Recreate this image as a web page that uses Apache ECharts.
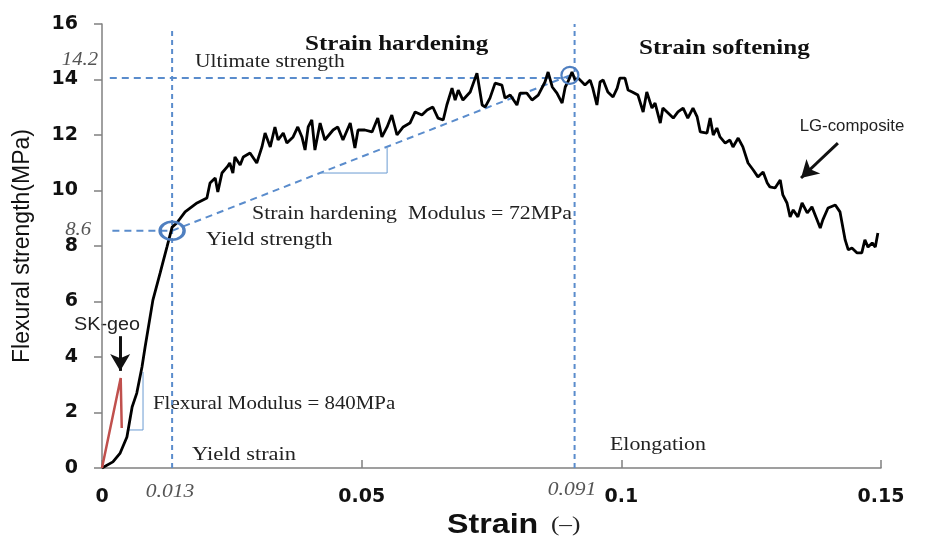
<!DOCTYPE html>
<html>
<head>
<meta charset="utf-8">
<script src="https://cdn.jsdelivr.net/npm/echarts@6/dist/echarts.min.js"></script>
<style>
  html, body { margin: 0; padding: 0; background: #fff; }
  #chart { width: 929px; height: 540px; }
</style>
</head>
<body>
<div id="chart"></div>
<script>
// LG-composite curve
var lgStrain = [0, 0.0021, 0.0035, 0.0048, 0.0058, 0.0067, 0.0077, 0.0083, 0.0098, 0.0112,
  0.0117, 0.0125, 0.0135, 0.0144, 0.0160, 0.0183, 0.0202, 0.0208, 0.0218, 0.0223,
  0.0231, 0.0241, 0.0246, 0.0252, 0.0256, 0.0266, 0.0272, 0.0285, 0.0298, 0.0308,
  0.0314, 0.0324, 0.0333, 0.0339, 0.0349, 0.0356, 0.0368, 0.0377, 0.0385, 0.0391,
  0.0397, 0.0404, 0.0410, 0.0420, 0.0429, 0.0445, 0.0454, 0.0464, 0.0478, 0.0487,
  0.0493, 0.0506, 0.0520, 0.0531, 0.0539, 0.0549, 0.0558, 0.0568, 0.0580, 0.0593,
  0.0603, 0.0616, 0.0626, 0.0637, 0.0647, 0.0657, 0.0664, 0.0674, 0.0680, 0.0686,
  0.0695, 0.0709, 0.0722, 0.0732, 0.0738, 0.0747, 0.0757, 0.0770, 0.0776, 0.0786,
  0.0799, 0.0805, 0.0818, 0.0828, 0.0840, 0.0853, 0.0859, 0.0867, 0.0876, 0.0886,
  0.0892, 0.0897, 0.0905, 0.0911, 0.0917, 0.0930, 0.0940, 0.0945, 0.0953, 0.0959,
  0.0965, 0.0974, 0.0984, 0.0992, 0.0997, 0.1007, 0.1013, 0.1021, 0.1032, 0.1042,
  0.1049, 0.1059, 0.1065, 0.1075, 0.1080, 0.1090, 0.1100, 0.1109, 0.1119, 0.1128,
  0.1138, 0.1146, 0.1152, 0.1165, 0.1171, 0.1177, 0.1184, 0.1190, 0.1200, 0.1209,
  0.1215, 0.1225, 0.1234, 0.1244, 0.1254, 0.1263, 0.1273, 0.1281, 0.1286, 0.1296,
  0.1306, 0.1311, 0.1319, 0.1325, 0.1331, 0.1340, 0.1348, 0.1358, 0.1367, 0.1377,
  0.1383, 0.1388, 0.1398, 0.1412, 0.1421, 0.1431, 0.1437, 0.1444, 0.1454, 0.1463,
  0.1469, 0.1475, 0.1483, 0.1489, 0.1494];
var lgStress = [0, 0.22, 0.54, 1.12, 2.20, 2.70, 3.64, 4.36, 6.05, 7.03,
  7.39, 7.96, 8.68, 8.83, 9.23, 9.55, 9.73, 10.27, 10.45, 9.95,
  10.63, 10.85, 10.99, 10.63, 11.21, 10.92, 11.21, 11.35, 10.99, 11.57,
  12.07, 11.57, 12.29, 11.82, 12.07, 11.71, 11.93, 12.29, 11.93, 11.46,
  12.29, 12.54, 11.46, 12.43, 11.82, 12.18, 12.29, 11.82, 12.43, 11.53,
  12.18, 12.18, 12.11, 12.61, 11.93, 12.29, 12.72, 12.00, 12.29, 12.43,
  12.83, 12.72, 12.90, 13.01, 12.61, 12.54, 13.08, 13.69, 13.26, 13.62,
  13.26, 13.55, 14.23, 13.08, 13.01, 13.33, 13.87, 13.80, 13.33, 13.44,
  13.08, 13.51, 13.51, 13.26, 13.44, 13.91, 14.27, 13.73, 13.51, 13.15,
  13.73, 13.91, 14.27, 13.98, 14.05, 13.80, 13.98, 13.69, 13.08, 13.91,
  13.98, 13.55, 13.37, 13.69, 14.05, 14.05, 13.62, 13.55, 13.44, 12.83,
  13.55, 12.97, 13.15, 12.43, 12.97, 12.79, 12.61, 12.83, 12.97, 12.61,
  12.97, 12.65, 12.11, 12.07, 12.61, 12.00, 12.25, 11.93, 11.71, 11.82,
  11.57, 11.89, 11.57, 10.99, 10.74, 10.49, 10.67, 10.27, 10.13, 10.09,
  10.38, 9.84, 9.55, 9.05, 9.30, 9.05, 9.55, 9.19, 9.41, 8.94,
  8.65, 8.94, 9.37, 9.48, 9.23, 8.22, 7.86, 7.93, 7.75, 7.75,
  8.22, 7.96, 8.11, 7.96, 8.47];

// SK-geo curve
var skStrain = [0, 0.0036, 0.0038];
var skStress = [0, 3.24, 1.44];

// annotation points
var yieldPoint = [0.0135, 8.55];
var ultimatePoint = [0.0901, 14.15];
var ultimateLevel = 14.05;
var elongationStrain = 0.091;

function pairs(xs, ys) {
  return xs.map(function (x, i) { return [x, ys[i]]; });
}

var chart = echarts.init(document.getElementById('chart'));

var blue = '#4f7fc0';
var dashed = { color: '#5a8ccc', width: 2, type: [7, 5] };
var dotted = { color: '#5a8ccc', width: 2, type: [5, 4] };
var thin = { color: '#6b9bd2', width: 1 };
var serif = '"Liberation Serif", "Times New Roman", serif';
var sans = '"Liberation Sans", Arial, sans-serif';

function guide(data, style) {
  return {
    type: 'line', data: data, showSymbol: false, silent: true,
    lineStyle: style, z: 1, animation: false
  };
}

// the figure is a little stretched sideways, so the text is widened too
function txt(x, y, text, font, align, fill, sx) {
  return {
    type: 'text', x: x, y: y, silent: true, scaleX: sx || 1.13,
    style: { text: text, font: font, fill: fill || '#222', align: align || 'left', verticalAlign: 'middle' }
  };
}

chart.setOption({
  animation: false,
  grid: { left: 102, right: 48, top: 24, bottom: 72 },
  xAxis: {
    type: 'value', min: 0, max: 0.15, interval: 0.05,
    axisLine: { show: true, lineStyle: { color: '#808080', width: 1.5 } },
    axisTick: { show: true, inside: true, length: 8, lineStyle: { color: '#808080', width: 1.5 } },
    axisLabel: { margin: 20, color: '#111', fontFamily: 'DejaVu Sans', fontWeight: 'bold', fontSize: 19,
      formatter: function (v) { return String(+v.toFixed(2)); } },
    splitLine: { show: false }
  },
  yAxis: {
    type: 'value', min: 0, max: 16, interval: 2,
    name: 'Flexural strength(MPa)', nameLocation: 'middle', nameGap: 68,
    nameTextStyle: { fontFamily: sans, fontSize: 23, color: '#111' },
    axisLine: { show: true, lineStyle: { color: '#808080', width: 1.5 } },
    axisTick: { show: true, inside: false, length: 8, lineStyle: { color: '#808080', width: 1.5 } },
    axisLabel: { margin: 24, color: '#111', fontFamily: 'DejaVu Sans', fontWeight: 'bold', fontSize: 19 },
    splitLine: { show: false }
  },
  series: [
    guide([[yieldPoint[0], 0], [yieldPoint[0], 15.8]], dotted),
    guide([[elongationStrain, 0], [elongationStrain, 16]], dotted),
    guide([[0.0015, ultimateLevel], [ultimatePoint[0], ultimateLevel]], dashed),
    guide([[0.002, yieldPoint[1]], yieldPoint], dashed),
    guide([yieldPoint, ultimatePoint], dashed),
    guide([[0.0050, 1.37], [0.0079, 1.37], [0.0079, 3.46]], thin),
    guide([[0.0420, 10.63], [0.0549, 10.63], [0.0549, 11.55]], thin),
    {
      name: 'LG-composite', type: 'line', data: pairs(lgStrain, lgStress),
      showSymbol: false, lineStyle: { color: '#000', width: 2.8 }, z: 3,
      markLine: {
        silent: true, symbol: ['none', 'arrow'], symbolSize: [15, 17],
        label: { show: false },
        lineStyle: { color: '#111', width: 3, type: 'solid' },
        data: [
          [{ coord: [0.1417, 11.71] }, { coord: [0.1346, 10.45] }],
          [{ coord: [0.0035, 4.75] }, { coord: [0.0035, 3.5] }]
        ]
      }
    },
    {
      name: 'SK-geo', type: 'line', data: pairs(skStrain, skStress),
      showSymbol: false, lineStyle: { color: '#c0504d', width: 2.5 }, z: 3
    },
    {
      type: 'scatter', data: [yieldPoint], symbol: 'circle', symbolSize: [24, 18],
      itemStyle: { color: 'rgba(0,0,0,0)', borderColor: blue, borderWidth: 3, opacity: 1 }, z: 4, silent: true
    },
    {
      type: 'scatter', data: [ultimatePoint], symbol: 'circle', symbolSize: 17,
      itemStyle: { color: 'rgba(0,0,0,0)', borderColor: blue, borderWidth: 2.2, opacity: 1 }, z: 4, silent: true
    }
  ],
  graphic: [
    txt(305, 44, 'Strain hardening', 'bold 22px ' + serif, 'left', '#111', 1.14),
    txt(639, 48, 'Strain softening', 'bold 22px ' + serif, 'left', '#111', 1.14),
    txt(195, 62, 'Ultimate strength', '19px ' + serif),
    txt(98, 60, '14.2', 'italic 18px ' + serif, 'right', '#555', 1.15),
    txt(91, 230, '8.6', 'italic 18px ' + serif, 'right', '#555', 1.15),
    txt(252, 214, 'Strain hardening  Modulus = 72MPa', '19px ' + serif, 'left', '#222', 1.15),
    txt(206, 240, 'Yield strength', '19px ' + serif, 'left', '#222', 1.18),
    txt(153, 404, 'Flexural Modulus = 840MPa', '19px ' + serif, 'left', '#222', 1.1),
    txt(192, 455, 'Yield strain', '19px ' + serif, 'left', '#222', 1.18),
    txt(610, 445, 'Elongation', '19px ' + serif, 'left', '#222', 1.15),
    txt(170, 492, '0.013', 'italic 18px ' + serif, 'center', '#555', 1.2),
    txt(572, 490, '0.091', 'italic 18px ' + serif, 'center', '#555', 1.2),
    txt(852, 127, 'LG-composite', '16px ' + sans, 'center', '#222', 1.05),
    txt(107, 325, 'SK-geo', '18px ' + sans, 'center', '#222', 1.1),
    {
      type: 'text', x: 447, y: 525, silent: true, scaleX: 1.15,
      style: {
        text: '{a|Strain}{b|  (–)}', align: 'left', verticalAlign: 'middle',
        rich: {
          a: { font: 'bold 28px ' + sans, fill: '#111' },
          b: { font: '22px ' + serif, fill: '#222' }
        }
      }
    }
  ]
});
</script>
</body>
</html>
